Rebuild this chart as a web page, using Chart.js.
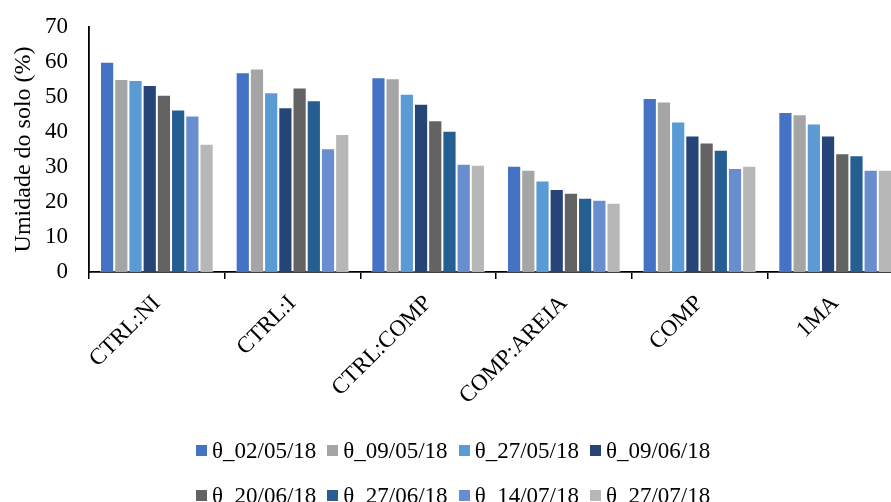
<!DOCTYPE html>
<html>
<head>
<meta charset="utf-8">
<script src="https://cdn.jsdelivr.net/npm/chart.js@4"></script>
<style>
  html, body { margin: 0; padding: 0; background: #fff; overflow: hidden; }
  #wrap { position: relative; width: 891px; height: 502px; overflow: hidden; }
  #c { position: absolute; left: 0; top: 0; }
  #legend {
    position: absolute; left: 196px; top: 428px;
    display: grid; grid-template-columns: repeat(4, auto); column-gap: 11px;
    font-family: 'Liberation Serif', serif; font-size: 23px; line-height: 45px; color: #000;
  }
  .item { display: flex; align-items: center; white-space: nowrap; }
  .box { width: 11px; height: 11px; margin-right: 5px; flex: none; }
</style>
</head>
<body>
<div id="wrap">
  <canvas id="c" width="905" height="430"></canvas>
  <div id="legend"></div>
</div>
<script>
// Treatments on the x axis
const categories = ['CTRL:NI', 'CTRL:I', 'CTRL:COMP', 'COMP:AREIA', 'COMP', '1MA'];

// Sampling dates (legend labels)
const seriesNames = ['θ_02/05/18', 'θ_09/05/18', 'θ_27/05/18', 'θ_09/06/18',
                     'θ_20/06/18', 'θ_27/06/18', 'θ_14/07/18', 'θ_27/07/18'];

// Soil moisture (%) per treatment, one array per date
const theta_02_05 = [60.0, 57.0, 55.6, 30.3, 49.7, 45.7];
const theta_09_05 = [55.1, 58.1, 55.3, 29.2, 48.7, 45.0];
const theta_27_05 = [54.8, 51.3, 50.9, 26.1, 43.0, 42.4];
const theta_09_06 = [53.4, 47.0, 48.0, 23.7, 39.0, 39.0];
const theta_20_06 = [50.6, 52.7, 43.3, 22.6, 37.0, 33.9];
const theta_27_06 = [46.4, 49.0, 40.3, 21.2, 34.9, 33.3];
const theta_14_07 = [44.7, 35.3, 30.9, 20.6, 29.7, 29.2];
const theta_27_07 = [36.6, 39.4, 30.6, 19.8, 30.3, 29.2];

// Y axis ticks
const yTicks = [0, 10, 20, 30, 40, 50, 60, 70];

const seriesValues = [theta_02_05, theta_09_05, theta_27_05, theta_09_06,
                      theta_20_06, theta_27_06, theta_14_07, theta_27_07];
const colors = ['#4472C4', '#A5A5A5', '#5B9BD5', '#264478',
                '#636363', '#255E91', '#698ED0', '#B7B7B7'];

const FONT = "'Liberation Serif', 'Times New Roman', serif";

const datasets = seriesNames.map((name, i) => ({
  label: name,
  data: seriesValues[i],
  backgroundColor: colors[i],
  borderColor: 'rgba(255,255,255,0.45)',
  borderWidth: { top: 1, left: 1, right: 1, bottom: 0 },
  categoryPercentage: 0.838,
  barPercentage: 1.0
}));

new Chart(document.getElementById('c'), {
  type: 'bar',
  data: { labels: categories, datasets },
  options: {
    responsive: false,
    animation: false,
    devicePixelRatio: 1,
    layout: { padding: { top: 16, right: 2, left: 0, bottom: 0 } },
    plugins: { legend: { display: false }, tooltip: { enabled: false } },
    scales: {
      x: {
        offset: true,
        grid: { display: true, drawOnChartArea: false, drawTicks: true, tickLength: 7, color: '#000', lineWidth: 1.5, offset: true },
        border: { display: true, color: '#000', width: 1.8 },
        ticks: {
          autoSkip: false, minRotation: 45, maxRotation: 45, padding: 11,
          color: '#000', font: { family: FONT, size: 23 }
        },
        afterFit: (s) => { s.height = 430 - 272; }
      },
      y: {
        min: 0, max: 70,
        afterBuildTicks: (s) => { s.ticks = yTicks.map(v => ({ value: v })); },
        grid: { display: false },
        border: { display: true, color: '#000', width: 1.8 },
        ticks: { padding: 13, color: '#000', font: { family: FONT, size: 23 } },
        title: {
          display: true, text: 'Umidade do solo (%)', color: '#000',
          font: { family: FONT, size: 24 }, padding: { top: 9, bottom: 0 }
        },
        afterFit: (s) => { s.width = 89; }
      }
    }
  }
});

// Legend, four entries per row
const legend = document.getElementById('legend');
seriesNames.forEach((name, i) => {
  const item = document.createElement('div');
  item.className = 'item';
  const box = document.createElement('span');
  box.className = 'box';
  box.style.background = colors[i];
  const txt = document.createElement('span');
  txt.textContent = name;
  item.appendChild(box);
  item.appendChild(txt);
  legend.appendChild(item);
});
</script>
</body>
</html>
